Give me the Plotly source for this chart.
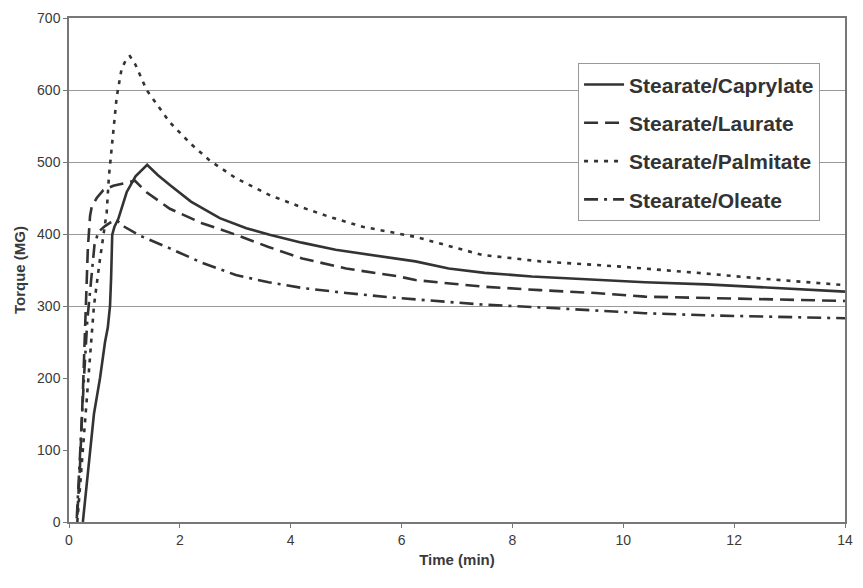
import plotly.graph_objects as go

# ---- data ----
cap_x = [0.25, 0.32, 0.38, 0.45, 0.56, 0.65, 0.70, 0.74, 0.76, 0.78, 0.82, 0.89, 1.04, 1.2, 1.41,
         1.6, 1.82, 2.2, 2.72, 3.2, 3.62, 4.2, 4.81, 5.5, 6.25, 6.85, 7.5, 8.35, 9.3, 10.39,
         11.5, 12.5, 13.3, 14]
cap_y = [0, 50, 100, 150, 200, 250, 270, 300, 340, 399, 410, 421, 458, 480, 496,
         482, 468, 445, 422, 408, 399, 388, 378, 370, 362, 352, 346, 341, 337, 333,
         330, 326, 323, 320]

lau_x = [0.15, 0.2, 0.25, 0.3, 0.34, 0.38, 0.41, 0.5, 0.62, 0.8, 1.0, 1.19, 1.4, 1.82, 2.4,
         3.01, 3.6, 4.21, 5.0, 5.95, 6.25, 7.45, 8.5, 9.5, 10.39, 11.5, 12.5, 14]
lau_y = [10, 80, 180, 300, 380, 425, 438, 450, 461, 467, 471, 474, 458, 435, 415,
         399, 382, 366, 352, 341, 336, 327, 322, 318, 313, 311, 309, 307]

pal_x = [0.15, 0.25, 0.35, 0.45, 0.55, 0.62, 0.68, 0.72, 0.78, 0.86, 0.95, 1.05, 1.1, 1.2,
         1.4, 1.82, 2.2, 2.54, 3.0, 3.62, 4.2, 4.69, 5.3, 5.95, 6.25, 7.45, 8.5, 9.9,
         10.39, 11.5, 12.5, 13.3, 14]
pal_y = [0, 100, 200, 300, 360, 400, 430, 480, 530, 590, 630, 645, 647, 635,
         600, 555, 525, 502, 478, 454, 437, 424, 410, 401, 396, 371, 362, 355,
         352, 345, 338, 333, 329]

ole_x = [0.14, 0.2, 0.27, 0.33, 0.4, 0.46, 0.53, 0.65, 0.75, 0.86, 1.0, 1.3, 1.82, 2.4,
         3.01, 3.6, 4.21, 5.0, 5.95, 6.25, 7.45, 8.5, 9.5, 10.39, 11.5, 12.5, 14]
ole_y = [5, 100, 200, 280, 340, 385, 403, 411, 416, 419, 410, 397, 380, 360,
         343, 333, 325, 318, 311, 309, 302, 298, 294, 290, 287, 285, 283]

series_names = ["Stearate/Caprylate", "Stearate/Laurate", "Stearate/Palmitate", "Stearate/Oleate"]
x_ticks = [0, 2, 4, 6, 8, 10, 12, 14]
y_ticks = [0, 100, 200, 300, 400, 500, 600, 700]
grid_vals = [300, 400, 500, 600]

FONT = "Arial, Liberation Sans, sans-serif"
LC = "#333333"

fig = go.Figure()
styles = [
    (cap_x, cap_y, "solid"),
    (lau_x, lau_y, "14px,7px"),
    (pal_x, pal_y, "4px,6px"),
    (ole_x, ole_y, "14px,6px,3px,6px"),
]
for i, ((xs, ys, dash), name) in enumerate(zip(styles, series_names)):
    fig.add_trace(go.Scatter(
        x=xs, y=ys, mode="lines", name=name, legendgroup=name,
        line=dict(color=LC, width=2.6, dash=dash),
    ))

# invisible trace so the grid axis is drawn
fig.add_trace(go.Scatter(x=[None], y=[None], yaxis="y2", showlegend=False, hoverinfo="skip"))

fig.update_layout(
    width=863, height=588,
    margin=dict(l=69, r=14, t=10, b=66),
    paper_bgcolor="white", plot_bgcolor="white",
    font=dict(family=FONT, color="#3a3a3a", size=14),
    showlegend=True,
    legend=dict(
        x=0.656, y=0.91, xanchor="left", yanchor="top",
        bordercolor="#999999", borderwidth=1, bgcolor="white",
        font=dict(family=FONT, size=21, color="#333333", weight="bold"),
        traceorder="grouped", tracegroupgap=8,
        itemwidth=40,
    ),
    xaxis=dict(
        range=[0, 14], tickvals=x_ticks, ticks="outside", ticklen=4,
        showgrid=False, zeroline=False, showline=True, mirror=True,
        linecolor="#777777", linewidth=1.5, tickcolor="#777777",
        title=dict(text="Time (min)", font=dict(size=15, weight="bold"), standoff=8),
        tickfont=dict(size=14),
    ),
    yaxis=dict(
        range=[0, 700], tickvals=y_ticks, ticks="outside", ticklen=4,
        showgrid=False, zeroline=False, showline=True, mirror=True,
        linecolor="#777777", linewidth=1.5, tickcolor="#777777",
        title=dict(text="Torque (MG)", font=dict(size=15, weight="bold"), standoff=8),
        tickfont=dict(size=14),
    ),
    yaxis2=dict(
        overlaying="y", range=[0, 700], tickvals=grid_vals, showticklabels=False,
        showgrid=True, gridcolor="#999999", gridwidth=1, zeroline=False,
        showline=False, ticks="",
    ),
)

fig.write_html("out.html")
